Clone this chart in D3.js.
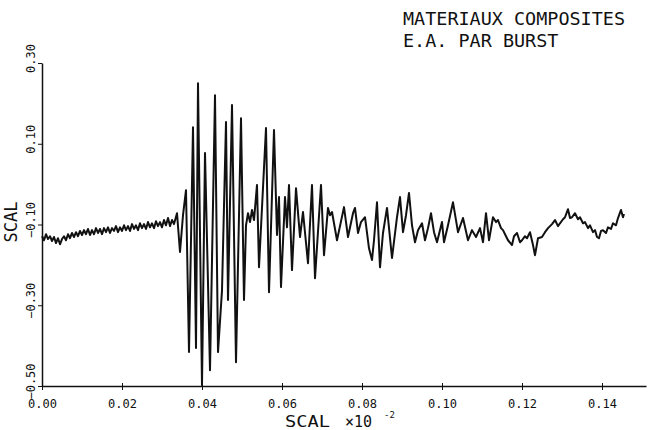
<!DOCTYPE html>
<html>
<head>
<meta charset="utf-8">
<script src="https://cdn.jsdelivr.net/npm/d3@7"></script>
<style>
  html, body { margin: 0; padding: 0; background: #fff; }
  svg { display: block; }
  text { font-family: "DejaVu Sans Mono", monospace; fill: #111; }
</style>
</head>
<body>
<svg id="chart" width="648" height="430"></svg>
<script>
// Acoustic emission burst trace — [time (x10^-2), amplitude]

const preTrigger = [
  [0.0000,-0.129],[0.0005,-0.139],[0.0010,-0.124],[0.0015,-0.136],[0.0020,-0.129],[0.0025,-0.141],
  [0.0030,-0.131],[0.0035,-0.146],[0.0040,-0.134],[0.0045,-0.149],[0.0050,-0.136],[0.0055,-0.129],
  [0.0060,-0.139],[0.0065,-0.124],[0.0070,-0.134],[0.0075,-0.121],[0.0080,-0.131],[0.0085,-0.119],
  [0.0090,-0.129],[0.0095,-0.116],[0.0100,-0.126],[0.0105,-0.114],[0.0110,-0.124],[0.0115,-0.111],
  [0.0120,-0.126],[0.0125,-0.114],[0.0130,-0.124],[0.0135,-0.109],[0.0140,-0.121],[0.0145,-0.111],
  [0.0150,-0.124],[0.0155,-0.109],[0.0160,-0.119],[0.0165,-0.107],[0.0170,-0.121],[0.0175,-0.109],
  [0.0180,-0.116],[0.0185,-0.104],[0.0190,-0.119],[0.0195,-0.107],[0.0200,-0.116],[0.0205,-0.102],
  [0.0210,-0.114],[0.0215,-0.104],[0.0220,-0.116],[0.0225,-0.099],[0.0230,-0.111],[0.0235,-0.102],
  [0.0240,-0.114],[0.0245,-0.097],[0.0250,-0.109],[0.0255,-0.099],[0.0260,-0.111],[0.0265,-0.094],
  [0.0270,-0.107],[0.0275,-0.097],[0.0280,-0.109],[0.0285,-0.092],[0.0290,-0.104],[0.0295,-0.094],
  [0.0300,-0.107],[0.0305,-0.089],[0.0310,-0.102],[0.0315,-0.084],[0.0320,-0.104],[0.0325,-0.089],
  [0.0330,-0.099]
];

const burst = [
  [0.03375,-0.072],[0.0345,-0.168],[0.03525,-0.077],[0.036,-0.015],[0.03675,-0.416],[0.03775,0.141],
  [0.0385,-0.406],[0.039,0.250],[0.040,-0.498],[0.04075,0.077],[0.042,-0.461],[0.04325,0.220],
  [0.044,-0.416],[0.045,-0.263],[0.046,0.154],[0.0465,-0.287],[0.0475,0.196],[0.0485,-0.441],
  [0.04975,0.163],[0.0505,-0.287],[0.051,-0.102],[0.0515,-0.072],[0.052,-0.094],[0.0525,-0.064],
  [0.053,-0.089],[0.05375,-0.002],[0.05425,-0.206],[0.056,0.139],[0.05675,-0.268],[0.058,0.134],
  [0.05875,-0.126],[0.05925,-0.032],[0.05975,-0.255],[0.06075,-0.032],[0.06125,-0.107],[0.06175,-0.002],
  [0.0625,-0.213],[0.0635,-0.010],[0.0645,-0.131],[0.06525,-0.069],[0.0665,-0.196],[0.0675,-0.002],
  [0.06825,-0.233],[0.06975,-0.002],[0.0705,-0.176],[0.0715,-0.059],[0.072,-0.077],[0.0725,-0.069],
  [0.07375,-0.139],[0.0755,-0.057],[0.0765,-0.131],[0.07775,-0.072]
];

const coda = [
  [0.07825,-0.059],[0.079,-0.121],[0.07975,-0.094],[0.08075,-0.082],[0.08175,-0.159],[0.0825,-0.188],
  [0.083,-0.139],[0.08375,-0.045],[0.0845,-0.206],[0.08525,-0.121],[0.08625,-0.059],[0.0875,-0.183],
  [0.08875,-0.082],[0.0895,-0.032],[0.09025,-0.119],[0.091,-0.077],[0.09175,-0.022],[0.0925,-0.102],
  [0.09325,-0.144],[0.094,-0.114],[0.095,-0.097],[0.09575,-0.139],[0.0965,-0.109],[0.09725,-0.072],
  [0.098,-0.119],[0.09875,-0.144],[0.100,-0.094],[0.1005,-0.144],[0.1015,-0.102],[0.10275,-0.045],
  [0.104,-0.119],[0.10525,-0.084],[0.1065,-0.139],[0.1075,-0.114],[0.1085,-0.131],[0.1095,-0.109],
  [0.11025,-0.144],[0.111,-0.072],[0.11175,-0.139],[0.11275,-0.082],[0.1135,-0.094],[0.114,-0.089],
  [0.11475,-0.109],[0.11525,-0.114],[0.116,-0.129],[0.1165,-0.139],[0.1175,-0.151],[0.118,-0.129],
  [0.11875,-0.121],[0.1195,-0.144],[0.120,-0.139],[0.12075,-0.129],[0.12125,-0.134],[0.122,-0.119],
  [0.12275,-0.151],[0.12325,-0.176],[0.124,-0.134],[0.125,-0.131],[0.12575,-0.119],[0.1265,-0.109],
  [0.1275,-0.099],[0.12825,-0.089],[0.129,-0.104],[0.1295,-0.097],[0.13025,-0.087],[0.13075,-0.082],
  [0.1315,-0.062],[0.132,-0.084],[0.1325,-0.082],[0.13325,-0.072],[0.134,-0.087],[0.1345,-0.082],
  [0.13525,-0.097],[0.13575,-0.094],[0.1365,-0.109],[0.137,-0.102],[0.13775,-0.119],[0.13825,-0.114],
  [0.13875,-0.131],[0.13925,-0.134],[0.13975,-0.116],[0.14025,-0.114],[0.141,-0.121],[0.1415,-0.107],
  [0.14225,-0.111],[0.14275,-0.097],[0.1435,-0.102],[0.144,-0.084],[0.14475,-0.064],[0.14525,-0.082],
  [0.1455,-0.074]
];

const xTicks = [0, 0.02, 0.04, 0.06, 0.08, 0.10, 0.12, 0.14];
const yTicks = [0.30, 0.10, -0.10, -0.30, -0.50];
const titleLines = ['MATERIAUX COMPOSITES', 'E.A. PAR BURST'];
const axisName = 'SCAL';

const svg = d3.select('#chart');
const fmt = d3.format('.2f');

const x = d3.scaleLinear().domain([0, 0.151]).range([42, 646]);
const y = d3.scaleLinear().domain([-0.50, 0.30]).range([386, 63]);

// --- Axes ---
const gx = svg.append('g').attr('transform', `translate(0,${y(-0.50)})`)
  .call(d3.axisBottom(x).tickValues(xTicks).tickSize(4).tickSizeOuter(0).tickFormat(fmt));
gx.select('.domain').attr('stroke', '#111').attr('stroke-width', 1.5);
gx.selectAll('.tick line').attr('stroke', '#111').attr('y1', -3).attr('y2', 4);
gx.selectAll('.tick text')
  .attr('y', 22).attr('dy', 0)
  .style('font-size', '12px');

const gy = svg.append('g').attr('transform', `translate(${x(0)},0)`)
  .call(d3.axisLeft(y).tickValues(yTicks).tickSize(4).tickSizeOuter(0).tickFormat(fmt));
gy.select('.domain').attr('stroke', '#111').attr('stroke-width', 1.5);
gy.selectAll('.tick line').attr('stroke', '#111');
gy.selectAll('.tick text')
  .attr('transform', 'rotate(-90)')
  .attr('text-anchor', 'middle')
  .attr('x', 5).attr('y', -7).attr('dy', 0)
  .style('font-size', '12px');

// --- Axis names ---
svg.append('text')
  .attr('transform', 'translate(17,222) rotate(-90)')
  .attr('text-anchor', 'middle')
  .style('font-size', '17px')
  .text(axisName);

svg.append('text')
  .attr('x', 285).attr('y', 427)
  .attr('textLength', 45)
  .attr('lengthAdjust', 'spacingAndGlyphs')
  .style('font-size', '15px')
  .text(axisName);

svg.append('text')
  .attr('x', 345).attr('y', 427)
  .style('font-size', '15px')
  .text('×10');

svg.append('text')
  .attr('x', 384).attr('y', 418)
  .style('font-size', '9px')
  .text('-2');

// --- Title ---
svg.selectAll('.title').data(titleLines).join('text')
  .attr('class', 'title')
  .attr('x', 403)
  .attr('y', (d, i) => 25 + i * 22)
  .attr('textLength', d => d.length * 11.1)
  .attr('lengthAdjust', 'spacingAndGlyphs')
  .style('font-size', '17px')
  .text(d => d);

// --- Trace ---
const trace = preTrigger.concat(burst, coda);
const line = d3.line().x(d => x(d[0])).y(d => y(d[1]));

svg.append('path')
  .datum(trace)
  .attr('d', line)
  .attr('fill', 'none')
  .attr('stroke', '#111')
  .attr('stroke-width', 2)
  .attr('stroke-linejoin', 'round');
</script>
</body>
</html>
